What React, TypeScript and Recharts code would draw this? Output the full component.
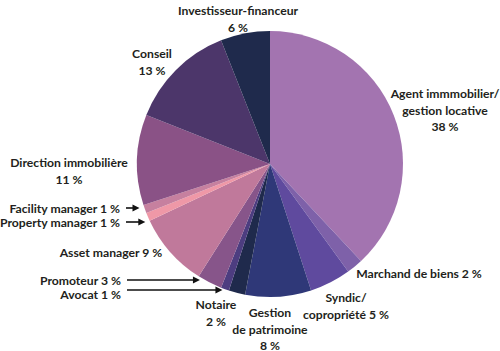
import React from 'react';
import { PieChart, Pie, Cell } from 'recharts';

const categories = [
  'Agent immmobilier/ gestion locative',
  'Marchand de biens',
  'Syndic/ copropriété',
  'Gestion de patrimoine',
  'Notaire',
  'Avocat',
  'Promoteur',
  'Asset manager',
  'Property manager',
  'Facility manager',
  'Direction immobilière',
  'Conseil',
  'Investisseur-financeur',
];

const shares = [38, 2, 5, 8, 2, 1, 3, 9, 1, 1, 11, 13, 6];

const COLORS = [
  '#a374b0', '#7e61a9', '#5f4a9e', '#2f3878', '#1f2a4c', '#4d3d80', '#87558a',
  '#c0799b', '#ef98a7', '#c6809f', '#8a5286', '#4c366a', '#1f2a4c',
];

// label layout: text lines, anchor, position of first line, arrow to the slice
type LabelLayout = { lines: string[]; x: number; y: number; anchor: 'start' | 'middle' | 'end'; arrow?: boolean };

const LABELS: LabelLayout[] = [
  { lines: ['Agent immmobilier/', 'gestion locative', '38 %'], x: 445, y: 93, anchor: 'middle' },
  { lines: ['Marchand de biens 2 %'], x: 419, y: 273, anchor: 'middle' },
  { lines: ['Syndic/', 'copropriété 5 %'], x: 346, y: 297, anchor: 'middle' },
  { lines: ['Gestion', 'de patrimoine', '8 %'], x: 270, y: 312, anchor: 'middle' },
  { lines: ['Notaire', '2 %'], x: 216, y: 304, anchor: 'middle' },
  { lines: ['Avocat 1 %'], x: 121, y: 294, anchor: 'end', arrow: true },
  { lines: ['Promoteur 3 %'], x: 121, y: 280, anchor: 'end', arrow: true },
  { lines: ['Asset manager 9 %'], x: 111, y: 252, anchor: 'middle' },
  { lines: ['Property manager 1 %'], x: 120, y: 222, anchor: 'end', arrow: true },
  { lines: ['Facility manager 1 %'], x: 120, y: 208, anchor: 'end', arrow: true },
  { lines: ['Direction immobilière', '11 %'], x: 69, y: 162, anchor: 'middle' },
  { lines: ['Conseil', '13 %'], x: 152, y: 53, anchor: 'middle' },
  { lines: ['Investisseur-financeur', '6 %'], x: 238, y: 10, anchor: 'middle' },
];

const data = categories.map((name, i) => ({ name, value: shares[i] }));

const LINE_H = 16.5;

function renderLabel(props: any) {
  const { index, cx, cy, outerRadius } = props;
  const l = LABELS[index];
  if (!l) return null;
  let arrow = null;
  if (l.arrow) {
    const ay = index === 5 ? l.y - 4 : l.y;
    const dy = ay - cy;
    const tipX = cx - Math.sqrt(Math.max(outerRadius * outerRadius - dy * dy, 0)) - 5;
    const startX = l.x + 6;
    arrow = (
      <g>
        <line x1={startX} y1={ay} x2={tipX - 5} y2={ay} stroke="#111" strokeWidth={1.6} />
        <path d={`M${tipX},${ay} L${tipX - 7},${ay - 3.5} L${tipX - 7},${ay + 3.5} Z`} fill="#111" />
      </g>
    );
  }
  return (
    <g key={`lbl-${index}`}>
      <text
        x={l.x}
        y={l.y}
        textAnchor={l.anchor}
        dominantBaseline="central"
        fill="#231f20"
        style={{ fontFamily: 'Lato, sans-serif', fontWeight: 700, fontSize: 12.2 }}
      >
        {l.lines.map((line, i) => (
          <tspan key={i} x={l.x} y={l.y + i * LINE_H}>
            {line}
          </tspan>
        ))}
      </text>
      {arrow}
    </g>
  );
}

export default function App() {
  return (
    <div style={{ position: 'absolute', left: 0, top: 0, width: 500, height: 351, background: '#fff' }}>
      <PieChart width={500} height={351} margin={{ top: 0, right: 0, bottom: 0, left: 0 }}>
        <Pie
          data={data}
          dataKey="value"
          nameKey="name"
          cx={270}
          cy={164}
          outerRadius={133}
          innerRadius={0}
          startAngle={90}
          endAngle={-270}
          stroke="none"
          label={renderLabel}
          labelLine={false}
          isAnimationActive={false}
        >
          {data.map((_, i) => (
            <Cell key={i} fill={COLORS[i]} />
          ))}
        </Pie>
      </PieChart>
    </div>
  );
}
